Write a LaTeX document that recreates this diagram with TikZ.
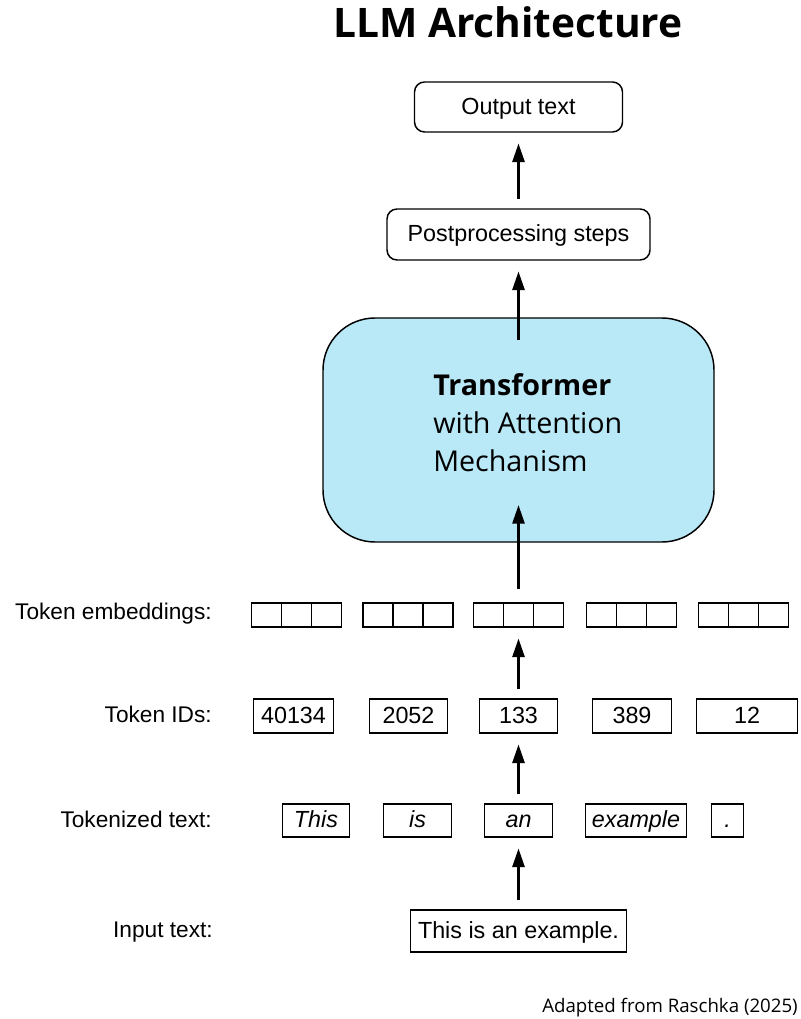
\documentclass[tikz,border=0pt]{standalone}
\usepackage{fontspec}
\setmainfont{Liberation Sans}
\newfontfamily\headfont{Open Sans}
\usetikzlibrary{arrows.meta,positioning}
\definecolor{coreblue}{RGB}{185,232,246}
\tikzset{
    title/.style = {anchor=base,inner sep=0pt,font=\headfont\bfseries\fontsize{30.5}{36}\selectfont},
    note/.style = {anchor=base east,inner sep=0pt,font=\headfont\fontsize{14}{17}\selectfont},
    stage/.style = {rectangle,rounded corners=7.5pt,draw=black,line width=1.1pt,text=black,text height=12.5pt,text depth=1.5pt,font=\fontsize{17.5}{20}\selectfont},
    core/.style = {rectangle,rounded corners=39pt,draw=black,line width=1.1pt,fill=coreblue,minimum width=293.25pt,minimum height=168pt},
    coretext/.style = {anchor=west,align=left,inner sep=0pt,font=\headfont\fontsize{21.5}{28.5}\selectfont},
    cell/.style = {rectangle,draw=black,line width=1.2pt,minimum width=22.5pt,minimum height=18pt,inner sep=0pt},
    word/.style = {rectangle,draw=black,line width=1.1pt,inner sep=0pt,minimum height=25.5pt,text height=12.5pt,text depth=1.5pt,font=\fontsize{17.5}{20}\selectfont},
    tok/.style = {word,minimum height=24.75pt,font=\fontsize{17.5}{20}\selectfont\itshape},
    lbl/.style = {anchor=base east,inner sep=0pt,font=\fontsize{17}{20}\selectfont},
    flow/.style = {-{Triangle[length=14pt,width=9pt]},line width=2pt,shorten <=7pt,shorten >=8pt}
}
\begin{document}
\begin{tikzpicture}[x=0.75pt,y=-0.75pt]
        \fill[white] (0,0) rectangle (800,1019);
        \useasboundingbox (0,0) rectangle (800,1019);

        \node[title]  (head) at (508,38)   {LLM Architecture};

        %% Model
        \node[core]     (tf)    at (518.5,430)    {};
        \node[coretext] (tftxt) at (433,423)      {\textbf{Transformer}\\with Attention\\Mechanism};
        \node[stage,minimum width=197.25pt,minimum height=38.25pt] (post) [above of=tf,node distance=146.625pt]  {Postprocessing steps};
        \node[stage,minimum width=156pt,minimum height=37.5pt]     (out)  [above of=post,node distance=95.625pt] {Output text};
        \coordinate (tfin)  at (518.5,505);
        \coordinate (tfout) at (518.5,340);

        %% Token embeddings
        \node[cell]  (emb3)  [below of=tf,node distance=138.75pt]  {};
        \node[cell]  (emb2)  [left of=emb3,node distance=82.875pt]  {};
        \node[cell]  (emb1)  [left of=emb2,node distance=83.625pt]  {};
        \node[cell]  (emb4)  [right of=emb3,node distance=84.75pt]  {};
        \node[cell]  (emb5)  [right of=emb4,node distance=84pt]     {};
        \node[cell]  (emb1a) [left of=emb1,node distance=22.5pt]    {};
        \node[cell]  (emb1b) [right of=emb1,node distance=22.5pt]   {};
        \node[cell]  (emb2a) [left of=emb2,node distance=22.5pt]    {};
        \node[cell]  (emb2b) [right of=emb2,node distance=22.5pt]   {};
        \node[cell]  (emb3a) [left of=emb3,node distance=22.5pt]    {};
        \node[cell]  (emb3b) [right of=emb3,node distance=22.5pt]   {};
        \node[cell]  (emb4a) [left of=emb4,node distance=22.5pt]    {};
        \node[cell]  (emb4b) [right of=emb4,node distance=22.5pt]   {};
        \node[cell]  (emb5a) [left of=emb5,node distance=22.5pt]    {};
        \node[cell]  (emb5b) [right of=emb5,node distance=22.5pt]   {};

        %% Token IDs
        \node[word,minimum width=58.5pt]  (id3) [below of=emb3,node distance=75.75pt]  {133};
        \node[word,minimum width=58.5pt]  (id2) [left of=id3,node distance=82.5pt]     {2052};
        \node[word,minimum width=60pt]    (id1) [left of=id2,node distance=86.25pt]    {40134};
        \node[word,minimum width=59.25pt] (id4) [right of=id3,node distance=85.125pt]  {389};
        \node[word,minimum width=75.75pt] (id5) [right of=id4,node distance=86.25pt]   {12};

        %% Tokenized text
        \node[tok,minimum width=51pt]     (tok3) [below of=id3,node distance=78.375pt]  {an};
        \node[tok,minimum width=51pt]     (tok2) [left of=tok3,node distance=75.75pt]   {is};
        \node[tok,minimum width=50.25pt]  (tok1) [left of=tok2,node distance=76.125pt]  {This};
        \node[tok,minimum width=75.75pt]  (tok4) [right of=tok3,node distance=88.125pt] {example};
        \node[tok,minimum width=24pt]     (tok5) [right of=tok4,node distance=68.625pt] {.};

        %% Input text
        \node[word,minimum width=162pt,minimum height=31.5pt] (inp) [below of=tok3,node distance=82.875pt] {This is an example.};

        %% Row labels
        \node[lbl]  (lemb) at (212,619)  {Token embeddings:};
        \node[lbl]  (lid)  at (212,722)  {Token IDs:};
        \node[lbl]  (ltok) at (212,827)  {Tokenized text:};
        \node[lbl]  (linp) at (213,937)  {Input text:};

        \node[note] (src)  at (798,1012) {Adapted from Raschka (2025)};

        \path   [flow]
                (inp)   edge []  node {} (tok3)
                (tok3)  edge []  node {} (id3)
                (id3)   edge []  node {} (emb3)
                (emb3)  edge [shorten <=10pt,shorten >=0pt]  node {} (tfin)
                (tfout) edge [shorten <=0pt]  node {} (post)
                (post)  edge []  node {} (out);
\end{tikzpicture}
\end{document}
